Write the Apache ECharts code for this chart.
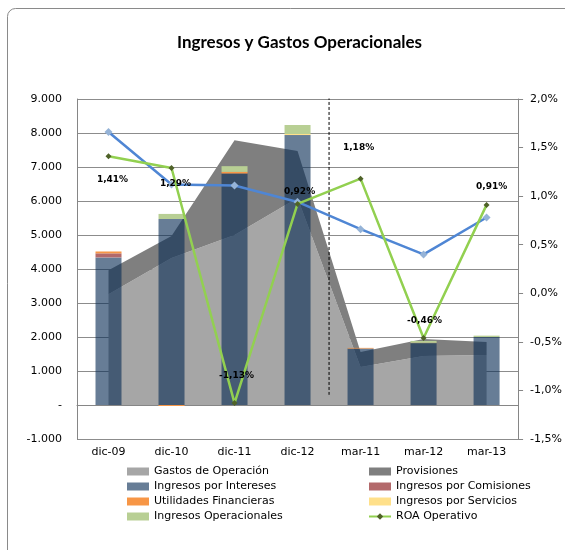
<!DOCTYPE html>
<html>
<head>
<meta charset="utf-8">
<script src="https://cdn.jsdelivr.net/npm/echarts@6/dist/echarts.min.js"></script>
<style>html,body{margin:0;padding:0;background:#fff;}#c{width:565px;height:550px;}</style>
</head>
<body>
<div id="c"></div>
<script>
const categories = ['dic-09', 'dic-10', 'dic-11', 'dic-12', 'mar-11', 'mar-12', 'mar-13'];
const gastosOperacion = [3260, 4320, 5000, 6090, 1120, 1440, 1470];
const provisiones = [700, 650, 2790, 1380, 440, 500, 380];
const ingresosIntereses = [4340, 5470, 6810, 7940, 1660, 1820, 2000];
const ingresosComisiones = [120, 0, 0, 0, 0, 0, 0];
const utilidadesFinancieras = [55, -30, 45, 0, 20, 0, 0];
const ingresosServicios = [0, 0, 0, 30, 0, 15, 0];
const ingresosOperacionales = [0, 150, 170, 265, 0, 50, 40];
const roaOperativo = [1.41, 1.29, -1.13, 0.92, 1.18, -0.46, 0.91];
const serieAzul = [1.66, 1.12, 1.11, 0.94, 0.66, 0.40, 0.78];
const separador = [[4, 9060], [4, 300]];
const leftTicks = { min: -1000, max: 9000, interval: 1000 };
const rightTicks = { min: -1.5, max: 2.0, interval: 0.5 };

// label offsets (style only)
const roaLabelOffsets = [[4, 23], [4, 16], [2, -27], [2, -12], [-2, -31], [1, -17], [5, -18]];

const FONT = 'DejaVu Sans';
const chart = echarts.init(document.getElementById('c'), null, { renderer: 'canvas' });

function fmtThousands(v) {
  if (v === 0) return '-';
  const s = Math.abs(v).toString().replace(/\B(?=(\d{3})+(?!\d))/g, '.');
  return (v < 0 ? '-' : '') + s;
}
function fmtPct1(v) { return v.toFixed(1).replace('.', ',') + '%'; }
function fmtPct2(v) { return v.toFixed(2).replace('.', ',') + '%'; }

const legendText = { fontFamily: FONT, fontSize: 11, color: '#000' };

const option = {
  animation: false,
  backgroundColor: '#fff',
  graphic: [{
    type: 'rect', shape: { x: 7.5, y: 8.5, width: 620, height: 560, r: 8 },
    style: { fill: 'none', stroke: '#8a8a8a', lineWidth: 1 }, silent: true, z: -10
  }],
  title: {
    text: 'Ingresos y Gastos Operacionales',
    left: 172, top: 29,
    textStyle: { fontFamily: 'Lato', fontWeight: 'bold', fontSize: 17, color: '#000' }
  },
  legend: [{
    data: [
      { name: 'Gastos de Operación', icon: 'rect' },
      { name: 'Ingresos por Intereses', icon: 'rect' },
      { name: 'Utilidades Financieras', icon: 'rect' },
      { name: 'Ingresos Operacionales', icon: 'rect' }
    ],
    orient: 'vertical', left: 127, top: 466, padding: 0,
    itemWidth: 22, itemHeight: 8, itemGap: 4, textStyle: legendText
  }, {
    data: [
      { name: 'Provisiones', icon: 'rect' },
      { name: 'Ingresos por Comisiones', icon: 'rect' },
      { name: 'Ingresos por Servicios', icon: 'rect' },
      { name: 'ROA Operativo' }
    ],
    orient: 'vertical', left: 368, top: 466, padding: 0,
    itemWidth: 22, itemHeight: 8, itemGap: 4, textStyle: legendText
  }],
  grid: { left: 77, right: 43, top: 99, bottom: 111, containLabel: false },
  xAxis: [{
    type: 'category', data: categories, boundaryGap: true,
    axisLine: { show: true, onZero: true, lineStyle: { color: '#868686', width: 1 } },
    axisTick: { show: false },
    axisLabel: { fontFamily: FONT, fontSize: 11, color: '#000', margin: 8 },
    splitLine: { show: false }
  }, {
    type: 'value', min: 0, max: 7, show: false
  }],
  yAxis: [{
    type: 'value', min: leftTicks.min, max: leftTicks.max, interval: leftTicks.interval,
    position: 'left',
    axisLine: { show: true, lineStyle: { color: '#868686' } },
    axisTick: { show: false },
    axisLabel: { fontFamily: FONT, fontSize: 11, color: '#000', margin: 15, formatter: fmtThousands },
    splitLine: { show: true, lineStyle: { color: '#8c8c8c', width: 1 } }
  }, {
    type: 'value', min: rightTicks.min, max: rightTicks.max, interval: rightTicks.interval,
    position: 'right',
    axisLine: { show: true, lineStyle: { color: '#868686' } },
    axisTick: { show: true, inside: false, length: 5, lineStyle: { color: '#868686' } },
    axisLabel: { fontFamily: FONT, fontSize: 11, color: '#000', margin: 12, formatter: fmtPct1 },
    splitLine: { show: false }
  }],
  series: [
    {
      name: 'Gastos de Operación', type: 'line', stack: 'costos', data: gastosOperacion,
      symbol: 'none', lineStyle: { width: 0 }, areaStyle: { color: '#a6a6a6', opacity: 1 },
      itemStyle: { color: '#a6a6a6' }, z: 1
    },
    {
      name: 'Provisiones', type: 'line', stack: 'costos', data: provisiones,
      symbol: 'none', lineStyle: { width: 0 }, areaStyle: { color: '#7f7f7f', opacity: 1 },
      itemStyle: { color: '#7f7f7f' }, z: 1
    },
    {
      name: 'Ingresos por Intereses', type: 'bar', stack: 'ingresos', data: ingresosIntereses,
      barWidth: 26, itemStyle: { color: 'rgba(10,45,85,0.62)' }, z: 3
    },
    {
      name: 'Ingresos por Comisiones', type: 'bar', stack: 'ingresos', data: ingresosComisiones,
      barWidth: 26, itemStyle: { color: '#b3696b' }, z: 3
    },
    {
      name: 'Utilidades Financieras', type: 'bar', stack: 'ingresos', data: utilidadesFinancieras,
      barWidth: 26, itemStyle: { color: '#f79646' }, z: 3
    },
    {
      name: 'Ingresos por Servicios', type: 'bar', stack: 'ingresos', data: ingresosServicios,
      barWidth: 26, itemStyle: { color: '#ffe08a' }, z: 3
    },
    {
      name: 'Ingresos Operacionales', type: 'bar', stack: 'ingresos', data: ingresosOperacionales,
      barWidth: 26, itemStyle: { color: '#b8cf94' }, z: 3
    },
    {
      name: 'Serie azul', type: 'line', yAxisIndex: 1, data: serieAzul,
      symbol: 'diamond', symbolSize: 8,
      lineStyle: { color: '#4f86d4', width: 2.5 },
      itemStyle: { color: '#95b3d7' }, z: 5
    },
    {
      name: 'ROA Operativo', type: 'line', yAxisIndex: 1,
      data: roaOperativo.map((v, i) => ({
        value: v,
        label: { offset: roaLabelOffsets[i] }
      })),
      symbol: 'diamond', symbolSize: 6,
      lineStyle: { color: '#92d050', width: 2.5 },
      itemStyle: { color: '#4f6228' },
      label: {
        show: true, position: 'inside', fontFamily: FONT, fontSize: 9, fontWeight: 'bold', color: '#000',
        formatter: p => fmtPct2(p.value)
      },
      z: 6
    },
    {
      name: 'separador', type: 'line', xAxisIndex: 1, yAxisIndex: 0, data: separador,
      symbol: 'none', lineStyle: { color: '#000', width: 1, type: [3, 2] }, z: 4, silent: true
    }
  ]
};
chart.setOption(option);
</script>
</body>
</html>
